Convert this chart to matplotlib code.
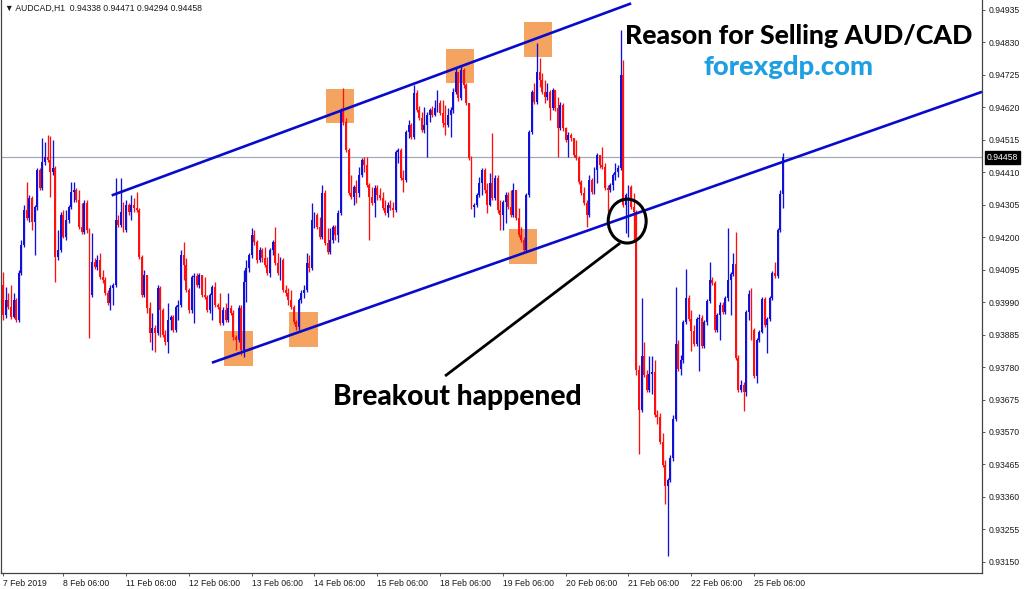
import matplotlib
matplotlib.use("Agg")
import matplotlib.pyplot as plt
from matplotlib.patches import Rectangle, Ellipse
import numpy as np

# ---------------- data (AUDCAD H1, prices in 1e-5 units) ----------------
first_open = 94045
close_pts = [
 93948, 93997, 93974, 93942, 93997, 93932, 94084, 94175, 94288, 94262,
 94327, 94249, 94298, 94417, 94359, 94443, 94459, 94450, 94411, 94424,
 94136, 94159, 94272, 94201, 94256, 94298, 94346, 94353, 94320, 94233,
 94217, 94310, 94223, 94013, 94120, 94104, 94126, 94071, 94061, 94019,
 93987, 94036, 94045, 94256, 94239, 94281, 94223, 94304, 94281, 94304,
 94294, 94288, 94136, 94013, 94078, 93971, 93890, 93906, 93890, 94036,
 93964, 93884, 93861, 93932, 93942, 93900, 93974, 93981, 94142, 94110,
 94029, 93964, 94071, 94074, 94045, 94078, 94013, 94006, 93964, 94013,
 94039, 93981, 93974, 93922, 93964, 93932, 93971, 93955, 93877, 93867,
 93971, 93835, 94055, 94100, 94142, 94207, 94184, 94126, 94159, 94133,
 94110, 94084, 94159, 94184, 94116, 94084, 94126, 94029, 94019, 93997,
 93974, 93926, 93909, 93997, 94019, 94029, 94116, 94100, 94256, 94272,
 94233, 94201, 94343, 94181, 94152, 94191, 94233, 94207, 94278, 94611,
 94572, 94482, 94343, 94330, 94362, 94343, 94401, 94450, 94433, 94369,
 94330, 94310, 94359, 94336, 94327, 94294, 94278, 94304, 94294, 94288,
 94475, 94482, 94391, 94385, 94540, 94563, 94524, 94666, 94611, 94585,
 94547, 94563, 94595, 94611, 94595, 94618, 94634, 94602, 94569, 94563,
 94595, 94611, 94669, 94734, 94650, 94741, 94692, 94634, 94456, 94298,
 94304, 94336, 94375, 94417, 94353, 94304, 94375, 94327, 94391, 94288,
 94272, 94314, 94336, 94298, 94272, 94353, 94262, 94207, 94191, 94159,
 94336, 94540, 94669, 94637, 94734, 94708, 94669, 94653, 94669, 94618,
 94676, 94618, 94553, 94627, 94553, 94514, 94530, 94521, 94466, 94456,
 94378, 94343, 94310, 94272, 94385, 94346, 94417, 94466, 94433, 94427,
 94359, 94353, 94369, 94401, 94411, 94424, 94724, 94304, 94336, 94362,
 94298, 94281, 93770, 93641, 93816, 93754, 93706, 93757, 93764, 93625,
 93618, 93538, 93463, 93395, 93415, 93486, 93612, 93854, 93774, 93803,
 93926, 94003, 93935, 93896, 93854, 93935, 93939, 93848, 93926, 93994,
 94061, 94052, 93900, 93948, 93981, 93958, 94003, 94061, 94081, 94113,
 93809, 93706, 93722, 93699, 93958, 94016, 93900, 93751, 93867, 93893,
 94000, 93916, 93935, 94003, 94084, 94074, 94223, 94338, 94458]
high_pts = [
 94087, 94039, 94019, 94045, 94019, 94003, 94094, 94191, 94304, 94378,
 94336, 94333, 94304, 94424, 94424, 94521, 94508, 94530, 94527, 94514,
 94430, 94223, 94281, 94288, 94288, 94304, 94378, 94378, 94359, 94353,
 94310, 94320, 94320, 94230, 94213, 94133, 94142, 94149, 94094, 94071,
 94029, 94045, 94052, 94391, 94272, 94391, 94314, 94320, 94310, 94336,
 94327, 94346, 94294, 94142, 94094, 94078, 93990, 93955, 93916, 94045,
 94042, 93971, 93900, 93987, 93948, 93948, 93981, 93997, 94159, 94184,
 94133, 94036, 94078, 94084, 94084, 94084, 94078, 94071, 94013, 94019,
 94045, 94055, 93987, 94019, 93974, 93987, 94019, 93981, 93964, 93884,
 93981, 93981, 94094, 94126, 94149, 94230, 94223, 94191, 94168, 94165,
 94168, 94136, 94165, 94191, 94233, 94149, 94136, 94133, 94045, 94036,
 94029, 93981, 93932, 94003, 94029, 94045, 94149, 94142, 94310, 94281,
 94278, 94265, 94369, 94353, 94230, 94230, 94239, 94239, 94288, 94618,
 94682, 94585, 94488, 94401, 94369, 94385, 94427, 94456, 94459, 94459,
 94375, 94362, 94369, 94369, 94359, 94346, 94320, 94314, 94320, 94314,
 94482, 94488, 94488, 94417, 94547, 94579, 94569, 94692, 94676, 94624,
 94605, 94621, 94605, 94618, 94624, 94644, 94676, 94644, 94644, 94627,
 94618, 94621, 94682, 94747, 94734, 94757, 94747, 94699, 94634, 94462,
 94310, 94343, 94395, 94424, 94424, 94375, 94408, 94537, 94401, 94401,
 94320, 94320, 94346, 94346, 94353, 94375, 94353, 94294, 94233, 94201,
 94343, 94547, 94676, 94699, 94828, 94779, 94731, 94708, 94699, 94676,
 94682, 94676, 94653, 94637, 94634, 94556, 94540, 94537, 94521, 94514,
 94462, 94385, 94362, 94320, 94401, 94391, 94427, 94472, 94466, 94492,
 94440, 94369, 94375, 94408, 94440, 94433, 94870, 94773, 94343, 94369,
 94369, 94343, 94288, 93787, 94003, 93861, 93770, 93816, 93816, 93803,
 93641, 93631, 93567, 93479, 93421, 93496, 93625, 94039, 93867, 93819,
 93932, 94097, 94013, 93964, 93916, 93942, 93952, 93948, 93932, 94000,
 94120, 94071, 94058, 93955, 93990, 93990, 94010, 94230, 94087, 94149,
 94217, 93819, 93738, 93732, 93964, 94029, 94036, 93906, 93874, 93900,
 94006, 94006, 93942, 94010, 94091, 94120, 94230, 94353, 94471]
low_pts = [
 93932, 93939, 93968, 93935, 93939, 93926, 93926, 94078, 94168, 94256,
 94249, 94223, 94142, 94288, 94353, 94353, 94433, 94443, 94330, 94401,
 94055, 94126, 94152, 94197, 94191, 94246, 94291, 94314, 94314, 94226,
 94210, 94210, 94213, 93874, 94006, 94097, 94094, 94065, 94052, 94013,
 93981, 93964, 93981, 94039, 94233, 94233, 94217, 94217, 94272, 94256,
 94281, 94281, 94129, 94006, 94006, 93955, 93861, 93835, 93829, 93884,
 93877, 93877, 93851, 93825, 93900, 93893, 93893, 93932, 93974, 94061,
 94023, 93955, 93955, 93922, 94039, 94036, 94006, 94000, 93958, 93955,
 93932, 93974, 93968, 93916, 93916, 93926, 93926, 93948, 93867, 93835,
 93861, 93819, 93812, 93990, 94087, 94133, 94175, 94116, 94120, 94120,
 94104, 94078, 94071, 94142, 94110, 94078, 94061, 94023, 94010, 93981,
 93968, 93919, 93900, 93900, 93987, 94003, 94023, 94087, 94094, 94230,
 94226, 94194, 94194, 94175, 94146, 94146, 94181, 94191, 94184, 94272,
 94563, 94475, 94336, 94323, 94304, 94310, 94330, 94395, 94411, 94362,
 94191, 94304, 94265, 94320, 94320, 94288, 94272, 94265, 94288, 94265,
 94281, 94440, 94385, 94346, 94378, 94521, 94517, 94517, 94605, 94579,
 94540, 94537, 94459, 94572, 94589, 94592, 94605, 94595, 94556, 94530,
 94556, 94524, 94602, 94663, 94640, 94644, 94682, 94627, 94450, 94291,
 94265, 94298, 94330, 94336, 94343, 94278, 94301, 94320, 94320, 94278,
 94223, 94223, 94246, 94291, 94265, 94265, 94256, 94201, 94184, 94152,
 94152, 94330, 94534, 94631, 94631, 94686, 94663, 94634, 94644, 94579,
 94611, 94608, 94459, 94547, 94543, 94508, 94459, 94511, 94459, 94450,
 94372, 94336, 94304, 94233, 94265, 94340, 94340, 94375, 94424, 94420,
 94353, 94281, 94346, 94353, 94385, 94395, 94417, 94298, 94213, 94201,
 94291, 94184, 93754, 93499, 93635, 93748, 93699, 93699, 93693, 93618,
 93596, 93531, 93457, 93337, 93169, 93408, 93476, 93606, 93767, 93754,
 93793, 93919, 93929, 93832, 93848, 93848, 93767, 93842, 93842, 93916,
 93987, 94045, 93893, 93893, 93867, 93952, 93952, 93994, 93948, 94074,
 93803, 93699, 93699, 93638, 93686, 93932, 93867, 93745, 93728, 93861,
 93890, 93909, 93825, 93929, 93997, 94068, 94068, 94217, 94294]

x_tick_bars = [0, 23, 47, 71, 95, 119, 143, 167, 191, 215, 239, 263, 287]
x_tick_labels = ["7 Feb 2019", "8 Feb 06:00", "11 Feb 06:00", "12 Feb 06:00",
                 "13 Feb 06:00", "14 Feb 06:00", "15 Feb 06:00", "18 Feb 06:00",
                 "19 Feb 06:00", "20 Feb 06:00", "21 Feb 06:00", "22 Feb 06:00",
                 "25 Feb 06:00"]
y_ticks = [0.93150, 0.93255, 0.93360, 0.93465, 0.93570, 0.93675, 0.93780, 0.93885,
           0.93990, 0.94095, 0.94200, 0.94305, 0.94410, 0.94515, 0.94620, 0.94725,
           0.94830, 0.94935]
bid_price = 0.94458
header = "\u25bc AUDCAD,H1  0.94338 0.94471 0.94294 0.94458"

# annotation geometry (bar index / price)
box_left = [84.4, 109.3, 123.4, 169.3, 199.1, 193.4]
box_right = [95.5, 120.4, 134.1, 180.0, 209.8, 204.1]
box_top = [0.93897, 0.93958, 0.94679, 0.94809, 0.94896, 0.94226]
box_bottom = [0.93783, 0.93845, 0.94569, 0.94699, 0.94783, 0.94113]
upper_channel = ([41.5, 240.0], [0.94335, 0.94956])
lower_channel = ([79.8, 374.1], [0.93794, 0.94670])
pointer = ([168.9, 235.8], [0.93751, 0.94181])
circle_center = (238.5, 0.94252)
circle_size = (14.5, 0.00142)

# ---------------- drawing ----------------
W, H = 1024, 589
fig = plt.figure(figsize=(W / 100, H / 100), dpi=100)
fig.patch.set_facecolor("white")
ax = fig.add_axes([1 / W, 16 / H, 981 / W, 573 / H])

close = np.array(close_pts) / 1e5
high = np.array(high_pts) / 1e5
low = np.array(low_pts) / 1e5
opens = np.concatenate([[first_open / 1e5], close[:-1]])
high = np.maximum(high, np.maximum(opens, close))
low = np.minimum(low, np.minimum(opens, close))
xb = np.arange(len(close))

BLUE = "#1010d8"
RED = "#ff1010"
cols = np.where(close >= opens, BLUE, RED)

for l, r, t, b in zip(box_left, box_right, box_top, box_bottom):
    ax.add_patch(Rectangle((l, b), r - l, t - b, facecolor="#F4A460",
                           edgecolor="none", zorder=1))

ax.vlines(xb, low, high, colors=cols, lw=0.95, zorder=3)
body_b = np.minimum(opens, close)
body_h = np.maximum(np.abs(close - opens), 0.00002)
ax.bar(xb, body_h, bottom=body_b, width=0.74, color=cols, linewidth=0, zorder=3)

ax.axhline(bid_price, color="#a3abb8", lw=0.9, zorder=2)

ax.plot(*upper_channel, color="#0a0acd", lw=1.9, zorder=4, solid_capstyle="butt")
ax.plot(*lower_channel, color="#0a0acd", lw=1.9, zorder=4, solid_capstyle="butt")
ax.plot(*pointer, color="black", lw=2.0, zorder=5, solid_capstyle="butt")
ax.add_patch(Ellipse(circle_center, circle_size[0], circle_size[1], fill=False,
                     edgecolor="black", lw=2.2, zorder=5))

ax.set_xlim(-0.81, 374.1)
ax.set_ylim(0.931139, 0.94967)
ax.set_facecolor("white")

ax.yaxis.tick_right()
ax.set_yticks(y_ticks)
ax.set_yticklabels([f"{v:.5f}" for v in y_ticks])
ax.set_xticks(x_tick_bars)
ax.set_xticklabels(x_tick_labels)
for lbl in ax.get_xticklabels():
    lbl.set_horizontalalignment("left")
tick_font = ["Liberation Sans", "DejaVu Sans"]
for lbl in ax.get_xticklabels() + ax.get_yticklabels():
    lbl.set_fontfamily(tick_font)
ax.tick_params(axis="y", direction="out", length=2.5, width=0.6, pad=2.5,
               labelsize=6.2, labelcolor="#1a1a1a", color="#404040")
ax.tick_params(axis="x", direction="out", length=2.5, width=0.6, pad=1.5,
               labelsize=6.2, labelcolor="#1a1a1a", color="#404040")
for side in ["left", "right", "bottom"]:
    ax.spines[side].set_color("#444444")
    ax.spines[side].set_linewidth(0.9)
ax.spines["top"].set_visible(False)

# price tag on the right axis
ax.annotate(f"{bid_price:.5f}", xy=(1.0, bid_price), xycoords=("axes fraction", "data"),
            xytext=(3.5, 0), textcoords="offset points", ha="left", va="center",
            fontsize=6.2, color="white", family=tick_font,
            bbox=dict(boxstyle="square,pad=0.2", fc="black", ec="black"))

fig.text(5 / W, 1 - 8 / H, header, fontsize=6.2, va="center", ha="left",
         color="#1a1a1a", family=["Liberation Sans", "DejaVu Sans"])

renderer = fig.canvas.get_renderer()


def fitted(s, x0, x1, base, **kw):
    t = fig.text(x0 / W, 1 - base / H, s, ha="left", va="baseline", fontsize=20, **kw)
    bb = t.get_window_extent(renderer=renderer)
    t.set_fontsize(20 * (x1 - x0) / bb.width)
    return t


big_font = ["Lato", "DejaVu Sans"]
fitted("Reason for Selling AUD/CAD", 625, 973, 43.5, color="black",
       fontweight="black", family=big_font)
fitted("forexgdp.com", 703, 873, 75, color="#1e9fe3",
       fontweight="black", family=big_font)
fitted("Breakout happened", 333, 582, 405, color="black",
       fontweight="black", family=big_font)

fig.savefig("out.png", dpi=100, facecolor="white")
